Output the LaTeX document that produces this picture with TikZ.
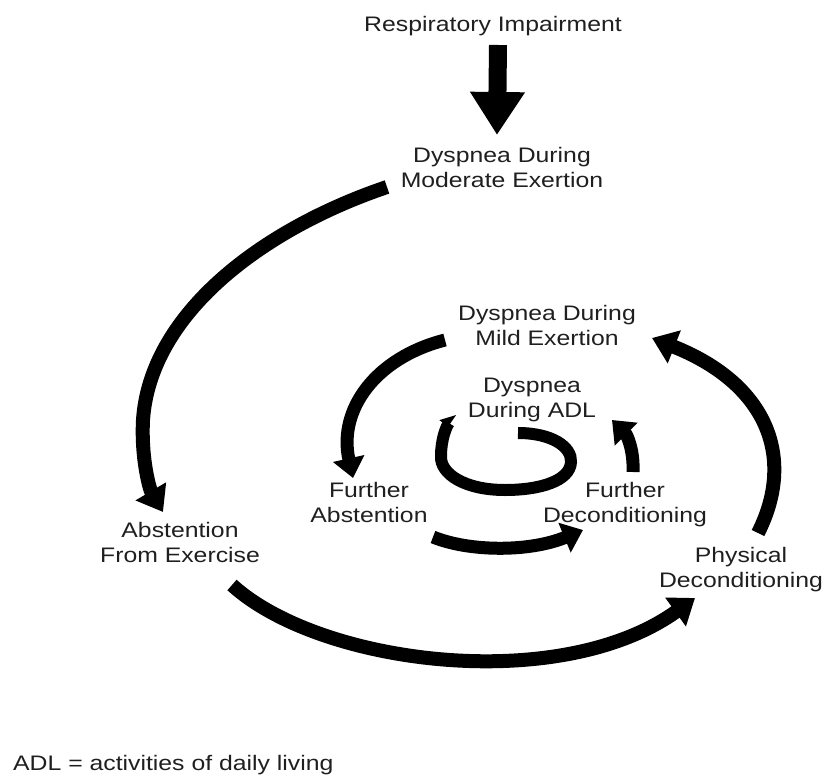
\documentclass[tikz,border=0pt]{standalone}
\usepackage{fontspec}
\setmainfont{Liberation Sans}[FakeStretch=1.18]
\usetikzlibrary{arrows.meta}
\tikzset{
  lbl/.style={align=center, inner sep=0pt, text=black!88, font={\fontsize{21}{25}\selectfont}},
  bigarc/.style={line width=14pt, -{Triangle[width=34pt,length=24pt]}},
  smallarc/.style={line width=13pt, -{Triangle[width=31pt,length=20pt]}},
}
\begin{document}
\begin{tikzpicture}[x=1pt,y=-1pt]
\useasboundingbox (0,0) rectangle (827,776);
% texts (anchor base = baseline of the last line)
\node[lbl, anchor=base] (resp)   at (493,32)  {Respiratory Impairment};
\node[lbl, anchor=base] (modex)  at (502,187) {Dyspnea During\\Moderate Exertion};
\node[lbl, anchor=base] (abst)   at (180,562) {Abstention\\From Exercise};
\node[lbl, anchor=base] (phys)   at (741,587) {Physical\\Deconditioning};
\node[lbl, anchor=base] (mildex) at (547,345) {Dyspnea During\\Mild Exertion};
\node[lbl, anchor=base] (fabst)  at (369,522) {Further\\Abstention};
\node[lbl, anchor=base] (fdec)   at (625,522) {Further\\Deconditioning};
\node[lbl, anchor=base] (adl)    at (532,417) {Dyspnea\\During ADL};
\node[lbl, anchor=base west] (note) at (13,770) {ADL = activities of daily living};
% end points
\coordinate (t1) at (498,45);   \coordinate (t2) at (497,135);
\coordinate (a1) at (387,187);  \coordinate (a2) at (163,512);
\coordinate (b1) at (232,585);  \coordinate (b2) at (695,598);
\coordinate (c1) at (758,533);  \coordinate (c2) at (652,338);
\coordinate (d1) at (445,340);  \coordinate (d2) at (353,478);
\coordinate (e1) at (433,537);  \coordinate (e2) at (583,530);
\coordinate (f1) at (633,472);  \coordinate (f2) at (612,420);
\coordinate (g1) at (518,433);  \coordinate (g2) at (455,414);
% connectors
\draw[line width=18pt, -{Triangle[width=52pt,length=43pt]}] (t1) -- (t2);
\draw[bigarc] (a1) .. controls (260,230) and (150,315) .. (143,420)
                   .. controls (141,460) and (150,490) .. (a2);
\draw[bigarc] (b1) .. controls (320,665) and (560,695) .. (b2);
\draw[bigarc] (c1) .. controls (795,460) and (770,385) .. (c2);
\draw[smallarc] (d1) .. controls (375,358) and (338,410) .. (d2);
\draw[smallarc] (e1) .. controls (470,552) and (530,552) .. (e2);
\draw[smallarc] (f1) .. controls (634,450) and (627,435) .. (f2);
\draw[line width=12pt, -{Triangle[harpoon,width=18pt,length=12pt]}]
   (g1) .. controls (552,433) and (572,447) .. (571,462)
        .. controls (570,481) and (540,490) .. (505,490)
        .. controls (465,490) and (440,474) .. (441,456)
        .. controls (441,440) and (446,427) .. (g2);
\end{tikzpicture}
\end{document}
